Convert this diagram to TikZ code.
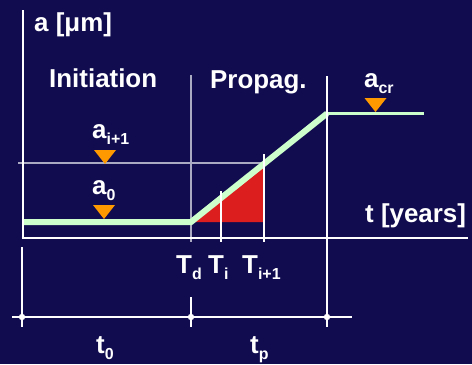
\documentclass[tikz,border=0pt]{standalone}
\usepackage{fontspec}
\setmainfont{Liberation Sans}
\usetikzlibrary{positioning}
\definecolor{bgnavy}{RGB}{17,12,80}
\definecolor{crackgreen}{RGB}{204,255,204}
\definecolor{markorange}{RGB}{255,153,0}
\definecolor{areared}{RGB}{220,30,30}
\definecolor{guidegray}{RGB}{170,170,195}
\newcommand{\subtxt}[1]{\raisebox{-6bp}{\fontsize{16}{16}\selectfont #1}}

\begin{document}
\begin{tikzpicture}[x=1bp, y=-1bp,
    every node/.style={text=white, font=\fontsize{26}{30}\selectfont\bfseries, inner sep=0pt, anchor=base west},
    axis/.style={white, line width=2bp},
    guide/.style={guidegray, line width=1.5bp}]
    \fill[bgnavy] (0,0) rectangle (472,364);

    % key points of the curve
    \coordinate (start) at (22,222);
    \coordinate (Td) at (191,222);
    \coordinate (cr) at (327,113.5);
    \coordinate (crend) at (424,113.5);
    \coordinate (top) at (263,165);
    \coordinate (foot) at (263,222);

    % red area and growth curve
    \fill[areared] (Td) -- (foot) -- (top) -- cycle;
    \draw[guide] (191,75) -- (191,242);
    \draw[guide] (18,163) -- (263,163);
    \draw[crackgreen, line width=6bp] (start) -- (Td) -- (cr);
    \draw[crackgreen, line width=3bp] (cr) -- (crend);

    % axes
    \draw[axis] (22.5,10) -- (22.5,238);
    \draw[axis] (21.5,238) -- (468,238);
    \draw[axis] (327,76) -- (327,327);
    \draw[axis] (221,191) -- (221,242);
    \draw[axis] (263.5,154) -- (263.5,242);

    % time spans
    \draw[axis] (22,247) -- (22,327);
    \draw[axis] (191,297) -- (191,327);
    \draw[axis] (12,317) -- (352,317);
    \foreach \x in {22,191,327}
        \fill[white] (\x,317) circle (3.2bp);

    % markers
    \foreach \x/\y in {105/150, 104/205, 375.5/98}
        \fill[markorange] (\x-11,\y) -- (\x+11,\y) -- (\x,\y+14) -- cycle;

    % labels
    \node (ylab) at (34,31) {a [μm]};
    \node (init) at (49,87) {Initiation};
    \node (prop) at (210,88) {Propag.};
    \node (acr) at (364,87) {a\subtxt{cr}};
    \node (ai) at (92,138) {a\subtxt{i+1}};
    \node (a0) at (92,194) {a\subtxt{0}};
    \node (xlab) at (365,222) {t [years]};
    \node (Tdlab) at (176,273) {T\subtxt{d}};
    \node (Tilab) at (208,273) {T\subtxt{i}};
    \node (Tnlab) at (242,273) {T\subtxt{i+1}};
    \node (t0) at (96,353) {t\subtxt{0}};
    \node (tp) at (250,353) {t\subtxt{p}};
\end{tikzpicture}
\end{document}
